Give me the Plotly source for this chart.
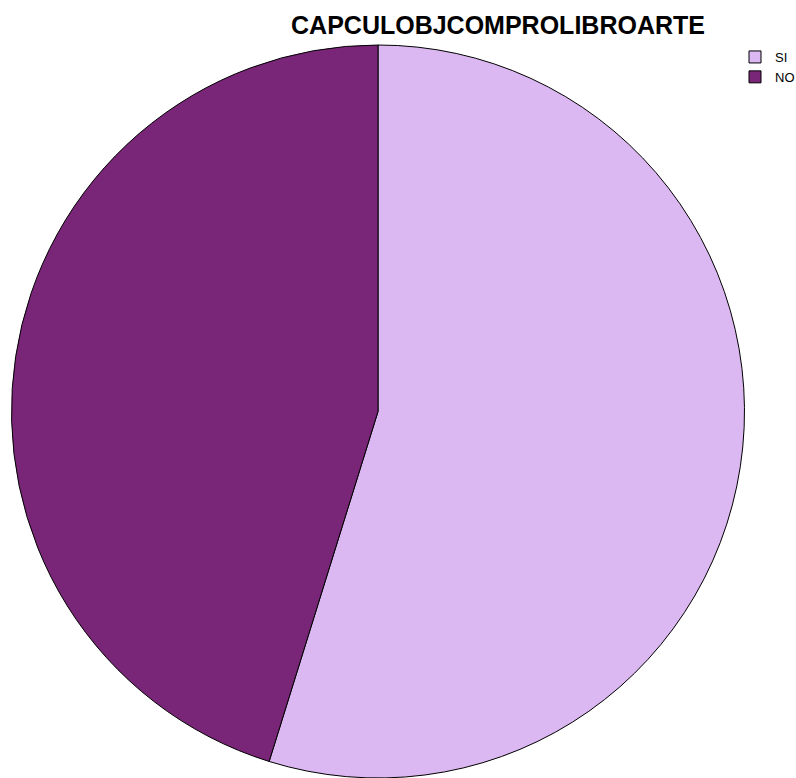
import plotly.graph_objects as go

labels = ["SI", "NO"]
values = [54.8, 45.2]
colors = ["#dcb8f2", "#7a2678"]

W, H = 796, 778
fig = go.Figure(go.Pie(
    labels=labels,
    values=values,
    sort=False,
    direction="clockwise",
    rotation=0,
    textinfo="none",
    hoverinfo="label+percent",
    marker=dict(colors=colors, line=dict(color="#000000", width=1)),
    domain=dict(x=[10 / W, 746 / W], y=[0, 1 - 45 / H]),
))

fig.update_layout(
    width=W, height=H,
    margin=dict(l=0, r=0, t=0, b=0, autoexpand=False),
    paper_bgcolor="white",
    plot_bgcolor="white",
    title=dict(
        text="<b>CAPCULOBJCOMPROLIBROARTE</b>",
        x=498 / W, xanchor="center",
        y=1 - 25 / H, yanchor="middle",
        font=dict(family="Arial, Liberation Sans", size=25, color="#000000"),
    ),
    legend=dict(
        x=735 / W, xanchor="left",
        y=1 - 42 / H, yanchor="top",
        font=dict(family="Arial, Liberation Sans", size=13, color="#000000"),
        itemwidth=30,
        tracegroupgap=0,
        bgcolor="rgba(0,0,0,0)",
    ),
    showlegend=True,
)

fig.write_html("out.html")
